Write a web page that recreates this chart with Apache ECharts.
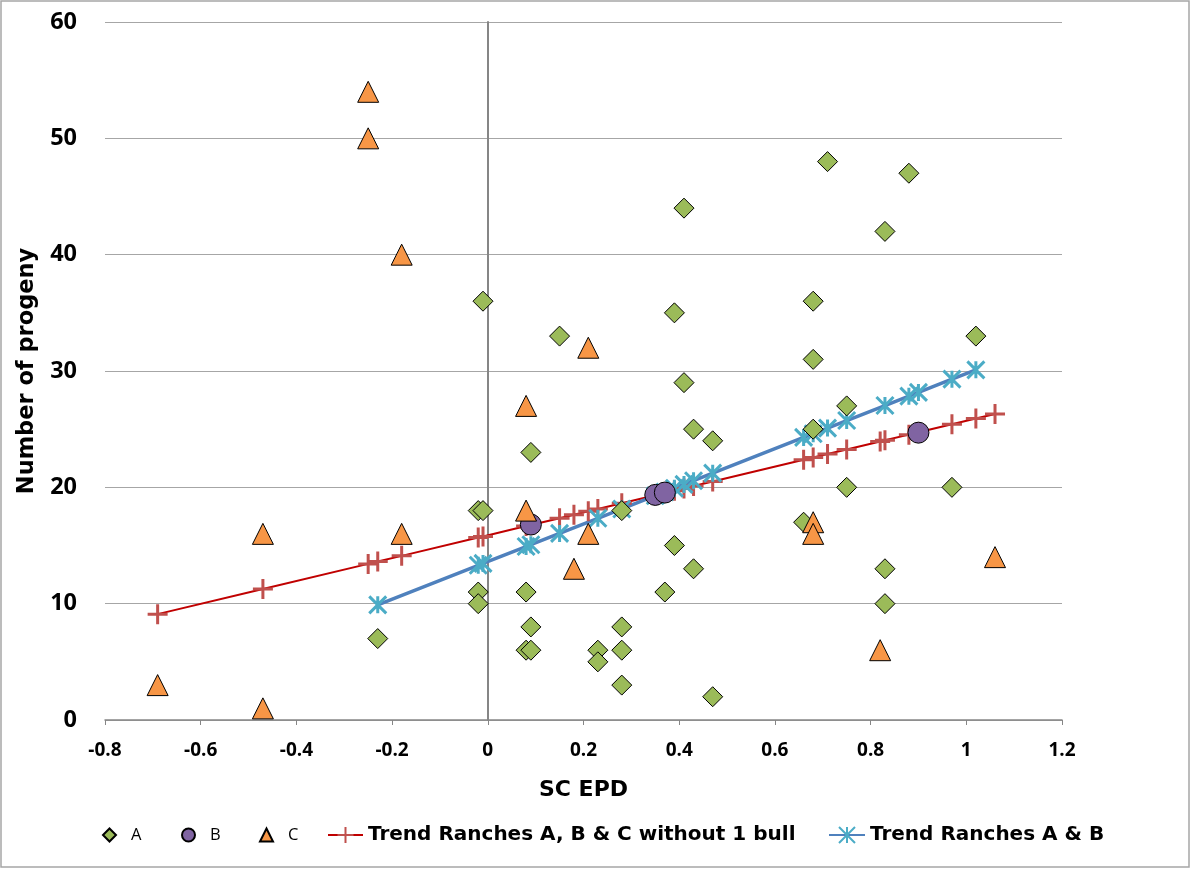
<!DOCTYPE html>
<html>
<head>
<meta charset="utf-8">
<script src="https://cdn.jsdelivr.net/npm/echarts@6/dist/echarts.min.js"></script>
<style>
html,body{margin:0;padding:0;background:#fff;}
#chart{width:1191px;height:870px;}
</style>
</head>
<body>
<div id="chart"></div>
<script>
// ---- Data ----
// Ranch A (green diamonds)
const aX = [-0.23,-0.01,-0.02,-0.01,-0.02,-0.02,0.15,0.09,0.08,0.09,0.08,0.09,0.23,0.23,0.28,0.28,0.28,0.28,0.39,0.41,0.41,0.43,0.47,0.39,0.37,0.43,0.47,0.71,0.88,0.83,0.68,0.68,1.02,0.75,0.68,0.75,0.97,0.66,0.83,0.83];
const aY = [7,36,18,18,11,10,33,23,11,8,6,6,6,5,18,8,6,3,35,44,29,25,24,15,11,13,2,48,47,42,36,31,33,27,25,20,20,17,13,10];
// Ranch B (purple circles)
const bX = [0.09,0.35,0.37,0.90];
const bY = [16.8,19.35,19.55,24.7];
// Ranch C (orange triangles)
const cX = [-0.25,-0.25,-0.18,-0.47,-0.18,-0.69,-0.47,0.08,0.08,0.21,0.21,0.18,0.68,0.68,1.06,0.82];
const cY = [54,50,40,16,16,3,1,27,18,32,16,13,17,16,14,6];
// Trend Ranches A, B & C without 1 bull (red)
const trendAllX = [-0.69,-0.47,-0.25,-0.23,-0.18,-0.02,-0.01,0.08,0.09,0.15,0.18,0.21,0.23,0.28,0.35,0.37,0.39,0.41,0.43,0.47,0.66,0.68,0.71,0.75,0.82,0.83,0.88,0.90,0.97,1.02,1.06];
const trendAllY = [9.1,11.26,13.42,13.62,14.11,15.68,15.78,16.67,16.76,17.35,17.65,17.94,18.14,18.63,19.32,19.52,19.71,19.91,20.11,20.5,22.37,22.56,22.86,23.25,23.94,24.04,24.53,24.73,25.42,25.91,26.3];
// Trend Ranches A & B (blue)
const trendABX = [-0.23,-0.02,-0.01,0.08,0.09,0.15,0.23,0.28,0.35,0.37,0.39,0.41,0.43,0.47,0.66,0.68,0.71,0.75,0.83,0.88,0.90,0.97,1.02];
const trendABY = [9.9,13.3,13.46,14.91,15.07,16.04,17.34,18.14,19.28,19.6,19.92,20.25,20.57,21.22,24.29,24.61,25.09,25.74,27.03,27.84,28.16,29.3,30.1];
// Axis settings
const xMin = -0.8, xMax = 1.2, xStep = 0.2;
const yMin = 0, yMax = 60, yStep = 10;
const legendNames = ['A','B','C','Trend Ranches A, B & C without 1 bull','Trend Ranches A & B'];

function pairs(xs, ys){ return xs.map((x,i)=>[x, ys[i]]); }

const FONT_T = '"Open Sans", Lato, sans-serif';
const FONT_W = '"DejaVu Sans", "Open Sans", sans-serif';
const plusPath = 'path://M10,0 L10,20 M0,10 L20,10';
const starPath = 'path://M0,0 L20,20 M20,0 L0,20 M10,0 L10,20';

const chart = echarts.init(document.getElementById('chart'), null, {renderer:'canvas'});

function oneLegend(name, left, opts){
  return Object.assign({
    data:[name], left:left, top:826, padding:0, itemGap:0,
    selectedMode:false,
    textStyle:{fontFamily:FONT_T, fontSize:16.5, fontWeight:'normal', color:'#000', lineHeight:18, padding:[0,0,0,10]}
  }, opts);
}
const boldLegendText = {fontFamily:FONT_W, fontSize:20, fontWeight:'bold', color:'#000', lineHeight:20};

const option = {
  backgroundColor:'#fff',
  animation:false,
  grid:{left:105, right:129, top:22, bottom:150, containLabel:false},
  graphic:[{type:'rect', shape:{x:1, y:1, width:1188, height:866}, style:{fill:'none', stroke:'#a6a6a6', lineWidth:1.5}, silent:true, z:-1}],
  legend:[
    oneLegend(legendNames[0], 102, {itemWidth:13, itemHeight:13}),
    oneLegend(legendNames[1], 181, {itemWidth:13, itemHeight:13}),
    oneLegend(legendNames[2], 259, {itemWidth:13, itemHeight:13}),
    oneLegend(legendNames[3], 327, {itemWidth:35, itemHeight:20, top:825, textStyle:boldLegendText}),
    oneLegend(legendNames[4], 828, {itemWidth:36, itemHeight:20, top:825, textStyle:boldLegendText})
  ],
  xAxis:{
    type:'value', min:xMin, max:xMax, interval:xStep,
    name:'SC EPD', nameLocation:'middle', nameGap:59,
    nameTextStyle:{fontFamily:FONT_W, fontSize:22, fontWeight:'bold', color:'#000'},
    axisLine:{show:true, onZero:false, lineStyle:{color:'#868686', width:1.5}},
    axisTick:{show:true, length:5, lineStyle:{color:'#868686', width:1}},
    axisLabel:{margin:21, fontFamily:FONT_T, fontSize:19, fontWeight:'bold', color:'#000',
      formatter:v=>String(Number(v.toFixed(1)))},
    splitLine:{show:false}
  },
  yAxis:[{
    type:'value', min:yMin, max:yMax, interval:yStep,
    name:'Number of progeny', nameLocation:'middle', nameGap:66, nameRotate:90,
    nameTextStyle:{fontFamily:FONT_W, fontSize:22.5, fontWeight:'bold', color:'#000'},
    axisLine:{show:false}, axisTick:{show:false},
    axisLabel:{margin:28, fontFamily:FONT_T, fontSize:23.5, fontWeight:'bold', color:'#000'},
    splitLine:{show:true, lineStyle:{color:'#a6a6a6', width:1.2}}
  },{
    type:'value', min:yMin, max:yMax, interval:yStep, position:'left',
    axisLine:{show:true, onZero:true, onZeroAxisIndex:0, lineStyle:{color:'#868686', width:2}},
    axisTick:{show:false}, axisLabel:{show:false}, splitLine:{show:false}
  }],
  series:[
    {
      name:legendNames[3], type:'line', z:2,
      data:pairs(trendAllX, trendAllY),
      symbol:plusPath, symbolSize:20, showSymbol:true,
      lineStyle:{color:'#c00000', width:2},
      itemStyle:{color:'#c0504d', borderColor:'#c0504d', borderWidth:3},
      emphasis:{disabled:true}
    },
    {
      name:legendNames[4], type:'line', z:2,
      data:pairs(trendABX, trendABY),
      symbol:starPath, symbolSize:17, showSymbol:true,
      lineStyle:{color:'#4f81bd', width:3.5},
      itemStyle:{color:'#4bacc6', borderColor:'#4bacc6', borderWidth:3},
      emphasis:{disabled:true}
    },
    {
      name:legendNames[0], type:'scatter', z:3,
      data:pairs(aX, aY), symbol:'diamond', symbolSize:20,
      itemStyle:{color:'#9bbb59', borderColor:'#000', borderWidth:1, opacity:1}
    },
    {
      name:legendNames[1], type:'scatter', z:3,
      data:pairs(bX, bY), symbol:'circle', symbolSize:21,
      itemStyle:{color:'#8064a2', borderColor:'#000', borderWidth:1, opacity:1}
    },
    {
      name:legendNames[2], type:'scatter', z:3,
      data:pairs(cX, cY), symbol:'triangle', symbolSize:21,
      itemStyle:{color:'#f79646', borderColor:'#000', borderWidth:1, opacity:1}
    }
  ]
};
chart.setOption(option);
</script>
</body>
</html>
